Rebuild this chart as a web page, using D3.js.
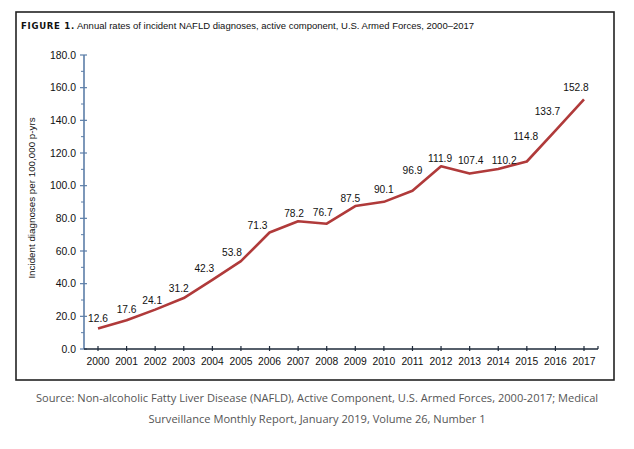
<!DOCTYPE html>
<html><head><meta charset="utf-8">
<script src="https://cdn.jsdelivr.net/npm/d3@7/dist/d3.min.js"></script>
<style>body{margin:0;background:#fff;}svg{display:block;} text{font-family:Arial,"Liberation Sans",Helvetica,sans-serif;}</style>
</head><body>
<script>
const years = [2000,2001,2002,2003,2004,2005,2006,2007,2008,2009,2010,2011,2012,2013,2014,2015,2016,2017];
const rates = [12.6,17.6,24.1,31.2,42.3,53.8,71.3,78.2,76.7,87.5,90.1,96.9,111.9,107.4,110.2,114.8,133.7,152.8];
const yTicks = [0,20,40,60,80,100,120,140,160,180];
const labelDx = [0,0,-3,-5,-8,-9,-12,-4,-4,-5,0,0,-1,1,6,-1,-8,-8];
const labelDy = [-10,-11,-9,-10,-11,-9,-7,-8,-11,-8,-12,-20,-8,-13,-9,-25,-19,-12];

const W=634,H=449;
const svg=d3.select("body").append("svg").attr("width",W).attr("height",H);
svg.append("rect").attr("x",16).attr("y",12).attr("width",598).attr("height",368)
  .attr("fill","#fff").attr("stroke","#222").attr("stroke-width",1.6);

const title=svg.append("text").attr("x",21).attr("y",28.5).attr("font-size",9.5).attr("fill","#111");
title.append("tspan").attr("font-weight","bold").style("font-family","'DejaVu Sans Condensed', 'Liberation Sans Narrow', sans-serif").attr("font-size",9.5).attr("letter-spacing",0.7).text("FIGURE 1.");
title.append("tspan").text(" Annual rates of incident NAFLD diagnoses, active component, U.S. Armed Forces, 2000–2017");

const x=d3.scalePoint().domain(years).range([98,584]);
const y=d3.scaleLinear().domain([0,180]).range([349,55]);

// y axis
const ya=svg.append("g");
ya.append("line").attr("x1",84).attr("x2",84).attr("y1",y(180)).attr("y2",y(0)).attr("stroke","#5c7ea8").attr("stroke-width",1.6);
const minor=d3.range(10,180,20);
ya.selectAll(".mn").data(minor).join("line").attr("x1",81).attr("x2",84).attr("y1",d=>y(d)).attr("y2",d=>y(d)).attr("stroke","#5c7ea8").attr("stroke-width",1);
ya.selectAll(".mj").data(yTicks).join("line").attr("x1",80).attr("x2",87).attr("y1",d=>y(d)).attr("y2",d=>y(d)).attr("stroke","#5c7ea8").attr("stroke-width",1.2);
ya.selectAll("text").data(yTicks).join("text").attr("x",76).attr("y",d=>y(d)).attr("dy","0.35em").attr("text-anchor","end")
  .attr("font-size",10.4).attr("fill","#111").text(d=>d.toFixed(1));

svg.append("text").attr("transform","translate(35,198) rotate(-90)").attr("text-anchor","middle")
  .attr("font-size",9.8).attr("fill","#111").text("Incident diagnoses per 100,000 p-yrs");

// x axis
const xa=svg.append("g");
xa.append("line").attr("x1",84).attr("x2",598).attr("y1",349).attr("y2",349).attr("stroke","#1e2a3a").attr("stroke-width",1.6);
xa.selectAll("line.t").data(years).join("line").attr("class","t").attr("x1",d=>x(d)).attr("x2",d=>x(d)).attr("y1",346).attr("y2",351).attr("stroke","#1e2a3a").attr("stroke-width",1.2);
xa.append("line").attr("x1",598).attr("x2",598).attr("y1",346).attr("y2",349).attr("stroke","#1e2a3a").attr("stroke-width",1.2);
xa.selectAll("text").data(years).join("text").attr("x",d=>x(d)).attr("y",364.5).attr("text-anchor","middle")
  .attr("font-size",10.3).attr("fill","#111").text(d=>d);

// line
const pts=years.map((yr,i)=>({yr,v:rates[i],i}));
svg.append("path").datum(pts).attr("fill","none").attr("stroke","#b03a3a").attr("stroke-width",2.6).attr("stroke-linejoin","round")
  .attr("d",d3.line().x(d=>x(d.yr)).y(d=>y(d.v)));
svg.selectAll("text.lbl").data(pts).join("text").attr("class","lbl")
  .attr("x",d=>x(d.yr)+labelDx[d.i]).attr("y",d=>y(d.v)+labelDy[d.i]).attr("dy","0.35em").attr("text-anchor","middle")
  .attr("font-size",10.2).attr("fill","#111").text(d=>d.v.toFixed(1));

// source
const src=["Source: Non-alcoholic Fatty Liver Disease (NAFLD), Active Component, U.S. Armed Forces, 2000-2017; Medical","Surveillance Monthly Report, January 2019, Volume 26, Number 1"];
svg.selectAll("text.src").data(src).join("text").attr("class","src").attr("x",317).attr("y",(d,i)=>402+i*21).attr("text-anchor","middle")
  .style("font-family","'Open Sans', sans-serif").attr("font-size",11.1).attr("fill","#555").text(d=>d);
</script>
</body></html>
